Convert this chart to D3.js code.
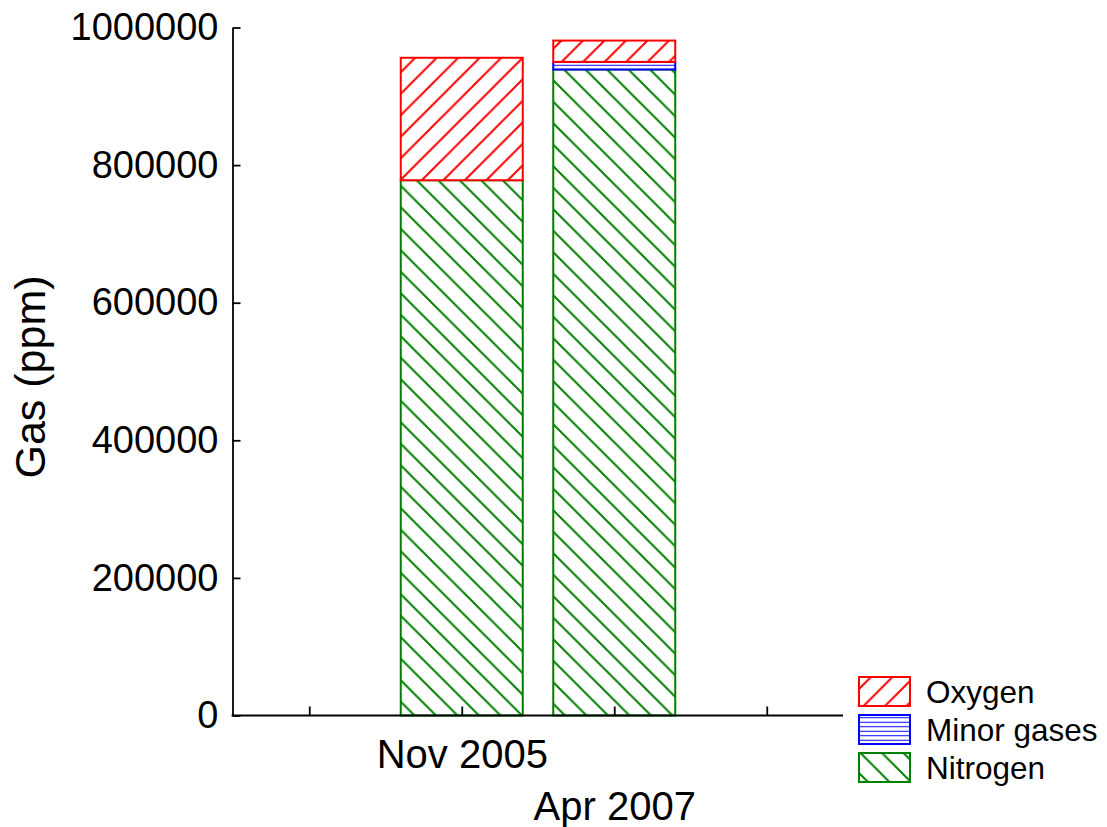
<!DOCTYPE html>
<html>
<head>
<meta charset="utf-8">
<script src="https://cdn.jsdelivr.net/npm/d3@7"></script>
<style>
  html, body { margin: 0; padding: 0; background: #fff; }
  svg { display: block; font-family: "Liberation Sans", Arial, sans-serif; }
</style>
</head>
<body>
<svg id="chart" width="1107" height="827"></svg>
<script>
// ---- data ----
const categories = ["Nov 2005", "Apr 2007"];
const categoryPositions = [1, 2];
const nitrogen = [778000, 939000];
const minorGases = [0, 11000];
const oxygen = [178000, 31000];
const seriesNames = ["Nitrogen", "Minor gases", "Oxygen"];
const seriesColors = ["#008000", "#0000ff", "#ff0000"];
const legendOrder = ["Oxygen", "Minor gases", "Nitrogen"];
const yTickValues = [0, 200000, 400000, 600000, 800000, 1000000];
const xTickValues = [0, 1, 2, 3];

// ---- build table ----
const table = categories.map((c, i) => ({
  cat: c, pos: categoryPositions[i],
  "Nitrogen": nitrogen[i], "Minor gases": minorGases[i], "Oxygen": oxygen[i]
}));
const stacked = d3.stack().keys(seriesNames)(table);

const svg = d3.select("#chart");
const x = d3.scaleLinear().domain([-0.5, 3.5]).range([233, 843]);
const y = d3.scaleLinear().domain([0, 1000000]).range([715.5, 27.5]);

// ---- patterns ----
const defs = svg.append("defs");
function diag(id, color, dir) {
  const s = 21.5;
  const p = defs.append("pattern").attr("id", id)
    .attr("patternUnits", "userSpaceOnUse")
    .attr("width", s).attr("height", s);
  p.append("rect").attr("width", s).attr("height", s).attr("fill", "#fff");
  const d = dir === "/"
    ? `M${-s/2},${s/2} L${s/2},${-s/2} M0,${s} L${s},0 M${s/2},${1.5*s} L${1.5*s},${s/2}`
    : `M${-s/2},${s/2} L${s/2},${1.5*s} M0,0 L${s},${s} M${s/2},${-s/2} L${1.5*s},${s/2}`;
  p.append("path").attr("d", d).attr("stroke", color).attr("stroke-width", 2).attr("fill", "none");
}
diag("pat-Oxygen", "#ff0000", "/");
diag("pat-Nitrogen", "#008000", "\\");
(function () {
  const s = 4.5;
  const p = defs.append("pattern").attr("id", "pat-Minor")
    .attr("patternUnits", "userSpaceOnUse").attr("width", 10).attr("height", s);
  p.append("rect").attr("width", 10).attr("height", s).attr("fill", "#fff");
  p.append("line").attr("x1", 0).attr("x2", 10).attr("y1", s / 2).attr("y2", s / 2)
    .attr("stroke", "#0000ff").attr("stroke-width", 1);
})();
const fillFor = k => k === "Minor gases" ? "url(#pat-Minor)" : `url(#pat-${k})`;
const colorFor = k => seriesColors[seriesNames.indexOf(k)];

// ---- bars ----
const bw = x(0.4) - x(-0.4);
stacked.forEach(s => {
  svg.append("g").selectAll("rect")
    .data(s.filter(d => d[1] - d[0] > 0))
    .join("rect")
    .attr("x", d => x(d.data.pos) - bw / 2)
    .attr("width", bw)
    .attr("y", d => y(d[1]))
    .attr("height", d => y(d[0]) - y(d[1]))
    .attr("fill", fillFor(s.key))
    .attr("stroke", colorFor(s.key))
    .attr("stroke-width", 2);
});

// ---- axes ----
const xAxis = d3.axisBottom(x).tickValues(xTickValues)
  .tickFormat(d => { const i = categoryPositions.indexOf(d); return i >= 0 ? categories[i] : ""; })
  .tickSizeInner(-9).tickSizeOuter(0);
const gx = svg.append("g").attr("transform", "translate(0,715.5)").call(xAxis);
gx.select("path.domain").attr("d", "M231.6,0H843");
gx.selectAll("line, path").attr("stroke", "#000").attr("stroke-width", 1.8);
gx.selectAll("text").attr("font-size", 40).attr("fill", "#000")
  .attr("font-family", "Liberation Sans, Arial, sans-serif")
  .attr("dy", 0)
  .attr("y", d => d === 1 ? 52.5 : 104.5);

const yAxis = d3.axisLeft(y).tickValues(yTickValues).tickFormat(d3.format("d"))
  .tickSizeInner(-8).tickSizeOuter(0).tickPadding(14);
const gy = svg.append("g").attr("transform", "translate(232.5,0)").call(yAxis);
gy.selectAll("text").attr("font-size", 38).attr("fill", "#000")
  .attr("font-family", "Liberation Sans, Arial, sans-serif");
gy.selectAll("line, path").attr("stroke", "#000").attr("stroke-width", 1.8);

// ---- y label ----
svg.append("text")
  .attr("transform", "translate(45,377) rotate(-90)")
  .attr("text-anchor", "middle")
  .attr("font-size", 43)
  .text("Gas (ppm)");

// ---- legend ----
const lg = svg.append("g");
legendOrder.forEach((k, i) => {
  const yy = 677 + i * 38;
  lg.append("rect").attr("x", 859).attr("y", yy).attr("width", 51).attr("height", 29)
    .attr("fill", fillFor(k)).attr("stroke", colorFor(k)).attr("stroke-width", 2);
  lg.append("text").attr("x", 926).attr("y", yy + 26).attr("font-size", 31.5).text(k);
});
</script>
</body>
</html>
